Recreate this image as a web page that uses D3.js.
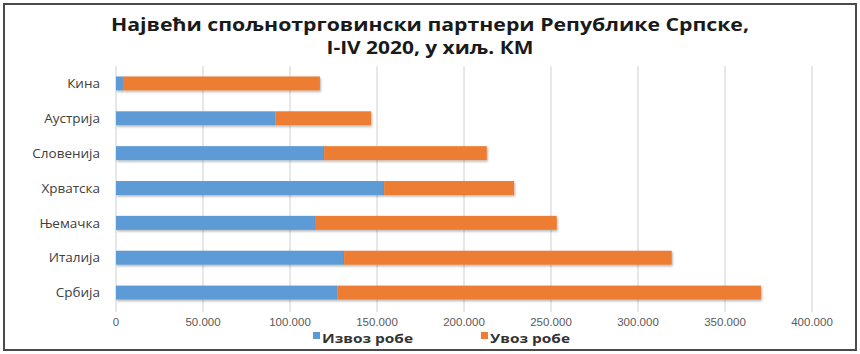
<!DOCTYPE html>
<html><head><meta charset="utf-8">
<script src="https://cdn.jsdelivr.net/npm/d3@7"></script>
<style>body{margin:0;background:#fff}svg{display:block}</style>
</head><body><svg id="c" width="860" height="354"></svg>
<script>
const categories = ["Кина","Аустрија","Словенија","Хрватска","Њемачка","Италија","Србија"];
const exportValues = [4000, 91600, 119600, 154100, 114400, 131100, 127200];
const importValues = [113200, 55000, 93500, 74700, 138900, 188300, 243500];
const seriesNames = ["Извоз робе","Увоз робе"];
const xTicks = [0,50000,100000,150000,200000,250000,300000,350000,400000];
const titleLines = ["Највећи спољнотрговински партнери Републике Српске,","I-IV 2020, у хиљ. КМ"];
const colors = ["#5B9BD5","#ED7D31"];

const svg = d3.select("#c");
const font = "'Open Sans', 'Liberation Sans', sans-serif";

const defs = svg.append("defs");
const f = defs.append("filter").attr("id","sh").attr("x","-5%").attr("y","-30%").attr("width","110%").attr("height","170%");
f.append("feDropShadow").attr("dx",1).attr("dy",1.5).attr("stdDeviation",1).attr("flood-color","#000").attr("flood-opacity",0.3);

svg.append("rect").attr("x",4).attr("y",4).attr("width",852).attr("height",346)
  .attr("fill","#fff").attr("stroke","#4a4a4a").attr("stroke-width",2);

const x = d3.scaleLinear().domain([0,400000]).range([116,812]);
const y = d3.scaleBand().domain(categories).range([66,310]).paddingInner(0.6).paddingOuter(0.3);

// gridlines
svg.append("g").selectAll("line").data(xTicks).join("line")
  .attr("x1",d=>x(d)).attr("x2",d=>x(d)).attr("y1",66).attr("y2",312)
  .attr("stroke","#d0d0d0").attr("stroke-width",1);

// x axis labels
const fmt = d => d===0 ? "0" : d3.format(",")(d).replace(/,/g,".");
svg.append("g").selectAll("text").data(xTicks).join("text")
  .attr("x",d=>x(d)).attr("y",326).attr("text-anchor","middle")
  .attr("font-family","'Liberation Sans Narrow','Liberation Sans',sans-serif").attr("font-size",11.5).attr("fill","#595959")
  .text(fmt);

// y labels
svg.append("g").selectAll("text").data(categories).join("text")
  .attr("x",100).attr("y",d=>y(d)+y.bandwidth()/2).attr("dy","0.35em").attr("text-anchor","end")
  .attr("font-family",font).attr("font-size",13.5).attr("fill","#404040")
  .text(d=>d);

// bars
const stackData = categories.map((c,i)=>({cat:c, s0:exportValues[i], s1:importValues[i]}));
const stack = d3.stack().keys(["s0","s1"])(stackData);
svg.append("g").selectAll("g").data(stack).join("g")
  .attr("fill",(d,i)=>colors[i])
  .selectAll("rect").data(d=>d).join("rect")
  .attr("x",d=>x(d[0])).attr("width",d=>x(d[1])-x(d[0]))
  .attr("y",d=>y(d.data.cat)).attr("height",y.bandwidth())
  .attr("filter","url(#sh)");

// title
const tw = [638, 207];
svg.append("g").selectAll("text").data(titleLines).join("text")
  .attr("x",430).attr("y",(d,i)=>31+i*23).attr("text-anchor","middle")
  .attr("font-family",font).attr("font-weight","bold").attr("font-size",18.5).attr("fill","#1a1a1a")
  .attr("textLength",(d,i)=>tw[i]).attr("lengthAdjust","spacingAndGlyphs")
  .text(d=>d);

// legend
const leg = [{n:seriesNames[0],c:colors[0],x:313,w:91},{n:seriesNames[1],c:colors[1],x:481,w:80}];
const lg = svg.append("g").selectAll("g").data(leg).join("g").attr("transform",d=>`translate(${d.x},343)`);
lg.append("rect").attr("x",0).attr("y",-11).attr("width",7).attr("height",7).attr("fill",d=>d.c);
lg.append("text").attr("x",9).attr("y",0).attr("font-family",font).attr("font-weight","bold")
  .attr("font-size",12).attr("fill","#333")
  .attr("textLength",d=>d.w).attr("lengthAdjust","spacingAndGlyphs").text(d=>d.n);
</script></body></html>
